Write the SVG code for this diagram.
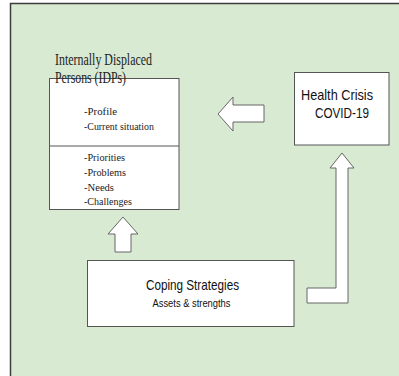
<svg xmlns="http://www.w3.org/2000/svg" width="399" height="376" viewBox="0 0 399 376">
<style>
.box{fill:#ffffff;stroke:#555555;stroke-width:1}
.arrow{fill:#ffffff;stroke:#666666;stroke-width:1}
.serif{font-family:"Liberation Serif","Times New Roman",serif;fill:#222222}
.sans{font-family:"Liberation Sans",Arial,sans-serif;fill:#111111}
</style>
<rect x="10.5" y="3.5" width="400" height="380" fill="#d9ead3" stroke="#3c3c3c" stroke-width="1.5"/>
<g id="idps">
<rect class="box" x="49.5" y="78.5" width="129.5" height="131"/>
<line x1="49.5" y1="146" x2="179" y2="146" stroke="#555555" stroke-width="1"/>
<text class="serif" x="55" y="65" font-size="16" textLength="97" lengthAdjust="spacingAndGlyphs">Internally Displaced</text>
<text class="serif" x="55" y="83" font-size="16" textLength="71" lengthAdjust="spacingAndGlyphs">Persons (IDPs)</text>
<text class="serif" x="84" y="115" font-size="11" textLength="33" lengthAdjust="spacingAndGlyphs">-Profile</text>
<text class="serif" x="84" y="130" font-size="11" textLength="70" lengthAdjust="spacingAndGlyphs">-Current situation</text>
<text class="serif" x="84" y="161" font-size="11" textLength="41" lengthAdjust="spacingAndGlyphs">-Priorities</text>
<text class="serif" x="84" y="176" font-size="11" textLength="42" lengthAdjust="spacingAndGlyphs">-Problems</text>
<text class="serif" x="84" y="191" font-size="11" textLength="30" lengthAdjust="spacingAndGlyphs">-Needs</text>
<text class="serif" x="84" y="205" font-size="11" textLength="48" lengthAdjust="spacingAndGlyphs">-Challenges</text>
</g>
<g id="health">
<rect class="box" x="294.5" y="72.5" width="94.5" height="72.5"/>
<text class="sans" x="301" y="100" font-size="15" textLength="72" lengthAdjust="spacingAndGlyphs">Health Crisis</text>
<text class="sans" x="315" y="118" font-size="15" textLength="54" lengthAdjust="spacingAndGlyphs">COVID-19</text>
</g>
<g id="coping">
<rect class="box" x="87.5" y="260.5" width="206.5" height="66"/>
<text class="sans" x="146" y="290" font-size="15" textLength="93" lengthAdjust="spacingAndGlyphs">Coping Strategies</text>
<text class="sans" x="152.5" y="306.5" font-size="11" textLength="78" lengthAdjust="spacingAndGlyphs">Assets &amp; strengths</text>
</g>
<g id="connectors">
<polygon class="arrow" points="218,114 233,97 233,105 264,105 264,122 233,122 233,131"/>
<polygon class="arrow" points="123,217 138,234 131,234 131,252 115,252 115,234 108,234"/>
<polygon class="arrow" points="307,288 336,288 336,168 330,168 342,153 354,168 348,168 348,303 307,303"/>
</g>
</svg>
